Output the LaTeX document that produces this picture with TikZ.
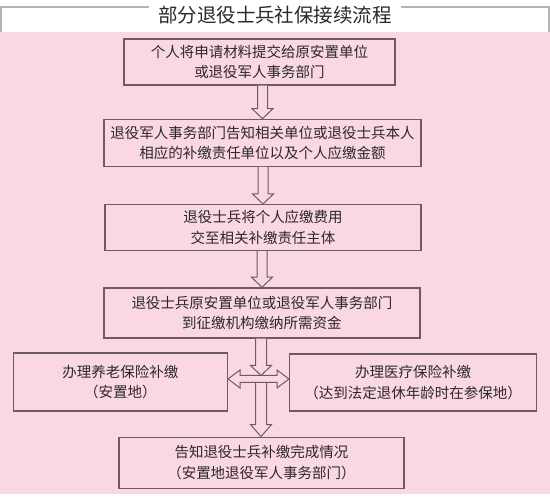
\documentclass[tikz,border=0pt]{standalone}
\usepackage{fontspec}
\setmainfont{Noto Sans CJK SC}
\usetikzlibrary{positioning,calc}

\definecolor{pinkbg}{RGB}{249,216,225}
\definecolor{edgec}{RGB}{110,90,100}
\definecolor{textc}{RGB}{45,40,42}
\definecolor{framec}{RGB}{180,180,178}

\begin{document}
\begin{tikzpicture}[
    x=1pt, y=1pt,
    box/.style={
        rectangle, draw=edgec, fill=pinkbg,
        line width=1.3pt, align=center, text=textc,
        font=\fontsize{14.5}{20.5}\selectfont, inner sep=0pt
    },
    blk/.style={draw=edgec, fill=pinkbg, line width=1pt, line join=miter},
    titleline/.style={draw=framec, line width=1.5pt},
]
% Background
\fill[white] (0,0) rectangle (550,-497);
\fill[pinkbg] (0,-32) rectangle (550,-494);

% Title
\node[text=textc, font=\fontsize{19.5}{24}\selectfont, inner xsep=9pt] (title) at (275,-15) {部分退役士兵社保接续流程};
\draw[titleline] (title.west |- 0,-7) -- (1,-7) -- (1,-32);
\draw[titleline] (title.east |- 0,-7) -- (549,-7) -- (549,-32);

% Nodes
\node[box, minimum width=271pt, minimum height=46pt] (apply) at (259.5,-62)
    {个人将申请材料提交给原安置单位\\或退役军人事务部门};
\node[box, minimum width=317pt, minimum height=47pt, below=33pt of apply, xshift=3pt] (notify)
    {退役军人事务部门告知相关单位或退役士兵本人\\相应的补缴责任单位以及个人应缴金额};
\node[box, minimum width=316pt, minimum height=46pt, below=37pt of notify, xshift=0.5pt] (pay)
    {退役士兵将个人应缴费用\\交至相关补缴责任主体};
\node[box, minimum width=316pt, minimum height=50pt, below=36pt of pay, xshift=-1pt] (remit)
    {退役士兵原安置单位或退役军人事务部门\\到征缴机构缴纳所需资金};

\coordinate (cross) at (261,-379);
\node[box, minimum width=214pt, minimum height=58pt, left=33pt of cross, yshift=-3pt] (pension)
    {办理养老保险补缴\\（安置地）};
\node[box, minimum width=247pt, minimum height=57pt, right=28pt of cross, yshift=-3.5pt] (medical)
    {办理医疗保险补缴\\（达到法定退休年龄时在参保地）};
\node[box, minimum width=285pt, minimum height=51pt, below=98pt of remit, xshift=-0.5pt] (inform)
    {告知退役士兵补缴完成情况\\（安置地退役军人事务部门）};

% Arrows
\foreach \a/\b in {apply/notify, notify/pay, pay/remit}
    \draw[blk] let \p1=(\a.south), \p2=(\b.north) in
        (\x2-5pt,\y1) -- (\x2-5pt,\y2+10pt) -- (\x2-10.5pt,\y2+10pt) -- (\x2,\y2)
        -- (\x2+10.5pt,\y2+10pt) -- (\x2+5pt,\y2+10pt) -- (\x2+5pt,\y1);

% lower part of the cross
\draw[blk] let \p1=(cross), \p2=(inform.north) in
    (\x1-5.5pt,\y1) -- (\x1-5.5pt,\y2+12pt) -- (\x1-10.5pt,\y2+12pt) -- (\x1,\y2)
    -- (\x1+10.5pt,\y2+12pt) -- (\x1+5.5pt,\y2+12pt) -- (\x1+5.5pt,\y1);
\draw[blk] let \p1=(pension.east), \p2=(medical.west), \p3=(cross) in
    (\x1,\y3) -- (\x1+12pt,\y3+9pt) -- (\x1+12pt,\y3+3.5pt) -- (\x2-12pt,\y3+3.5pt)
    -- (\x2-12pt,\y3+9pt) -- (\x2,\y3) -- (\x2-12pt,\y3-9pt) -- (\x2-12pt,\y3-3.5pt)
    -- (\x1+12pt,\y3-3.5pt) -- (\x1+12pt,\y3-9pt) -- cycle;
\draw[blk] let \p1=(remit.south), \p2=(cross) in
    (\x2-5.5pt,\y1) -- (\x2-5.5pt,\y2+13.5pt) -- (\x2-10.5pt,\y2+13.5pt) -- (\x2,\y2+3.5pt)
    -- (\x2+10.5pt,\y2+13.5pt) -- (\x2+5.5pt,\y2+13.5pt) -- (\x2+5.5pt,\y1);

\end{tikzpicture}
\end{document}
